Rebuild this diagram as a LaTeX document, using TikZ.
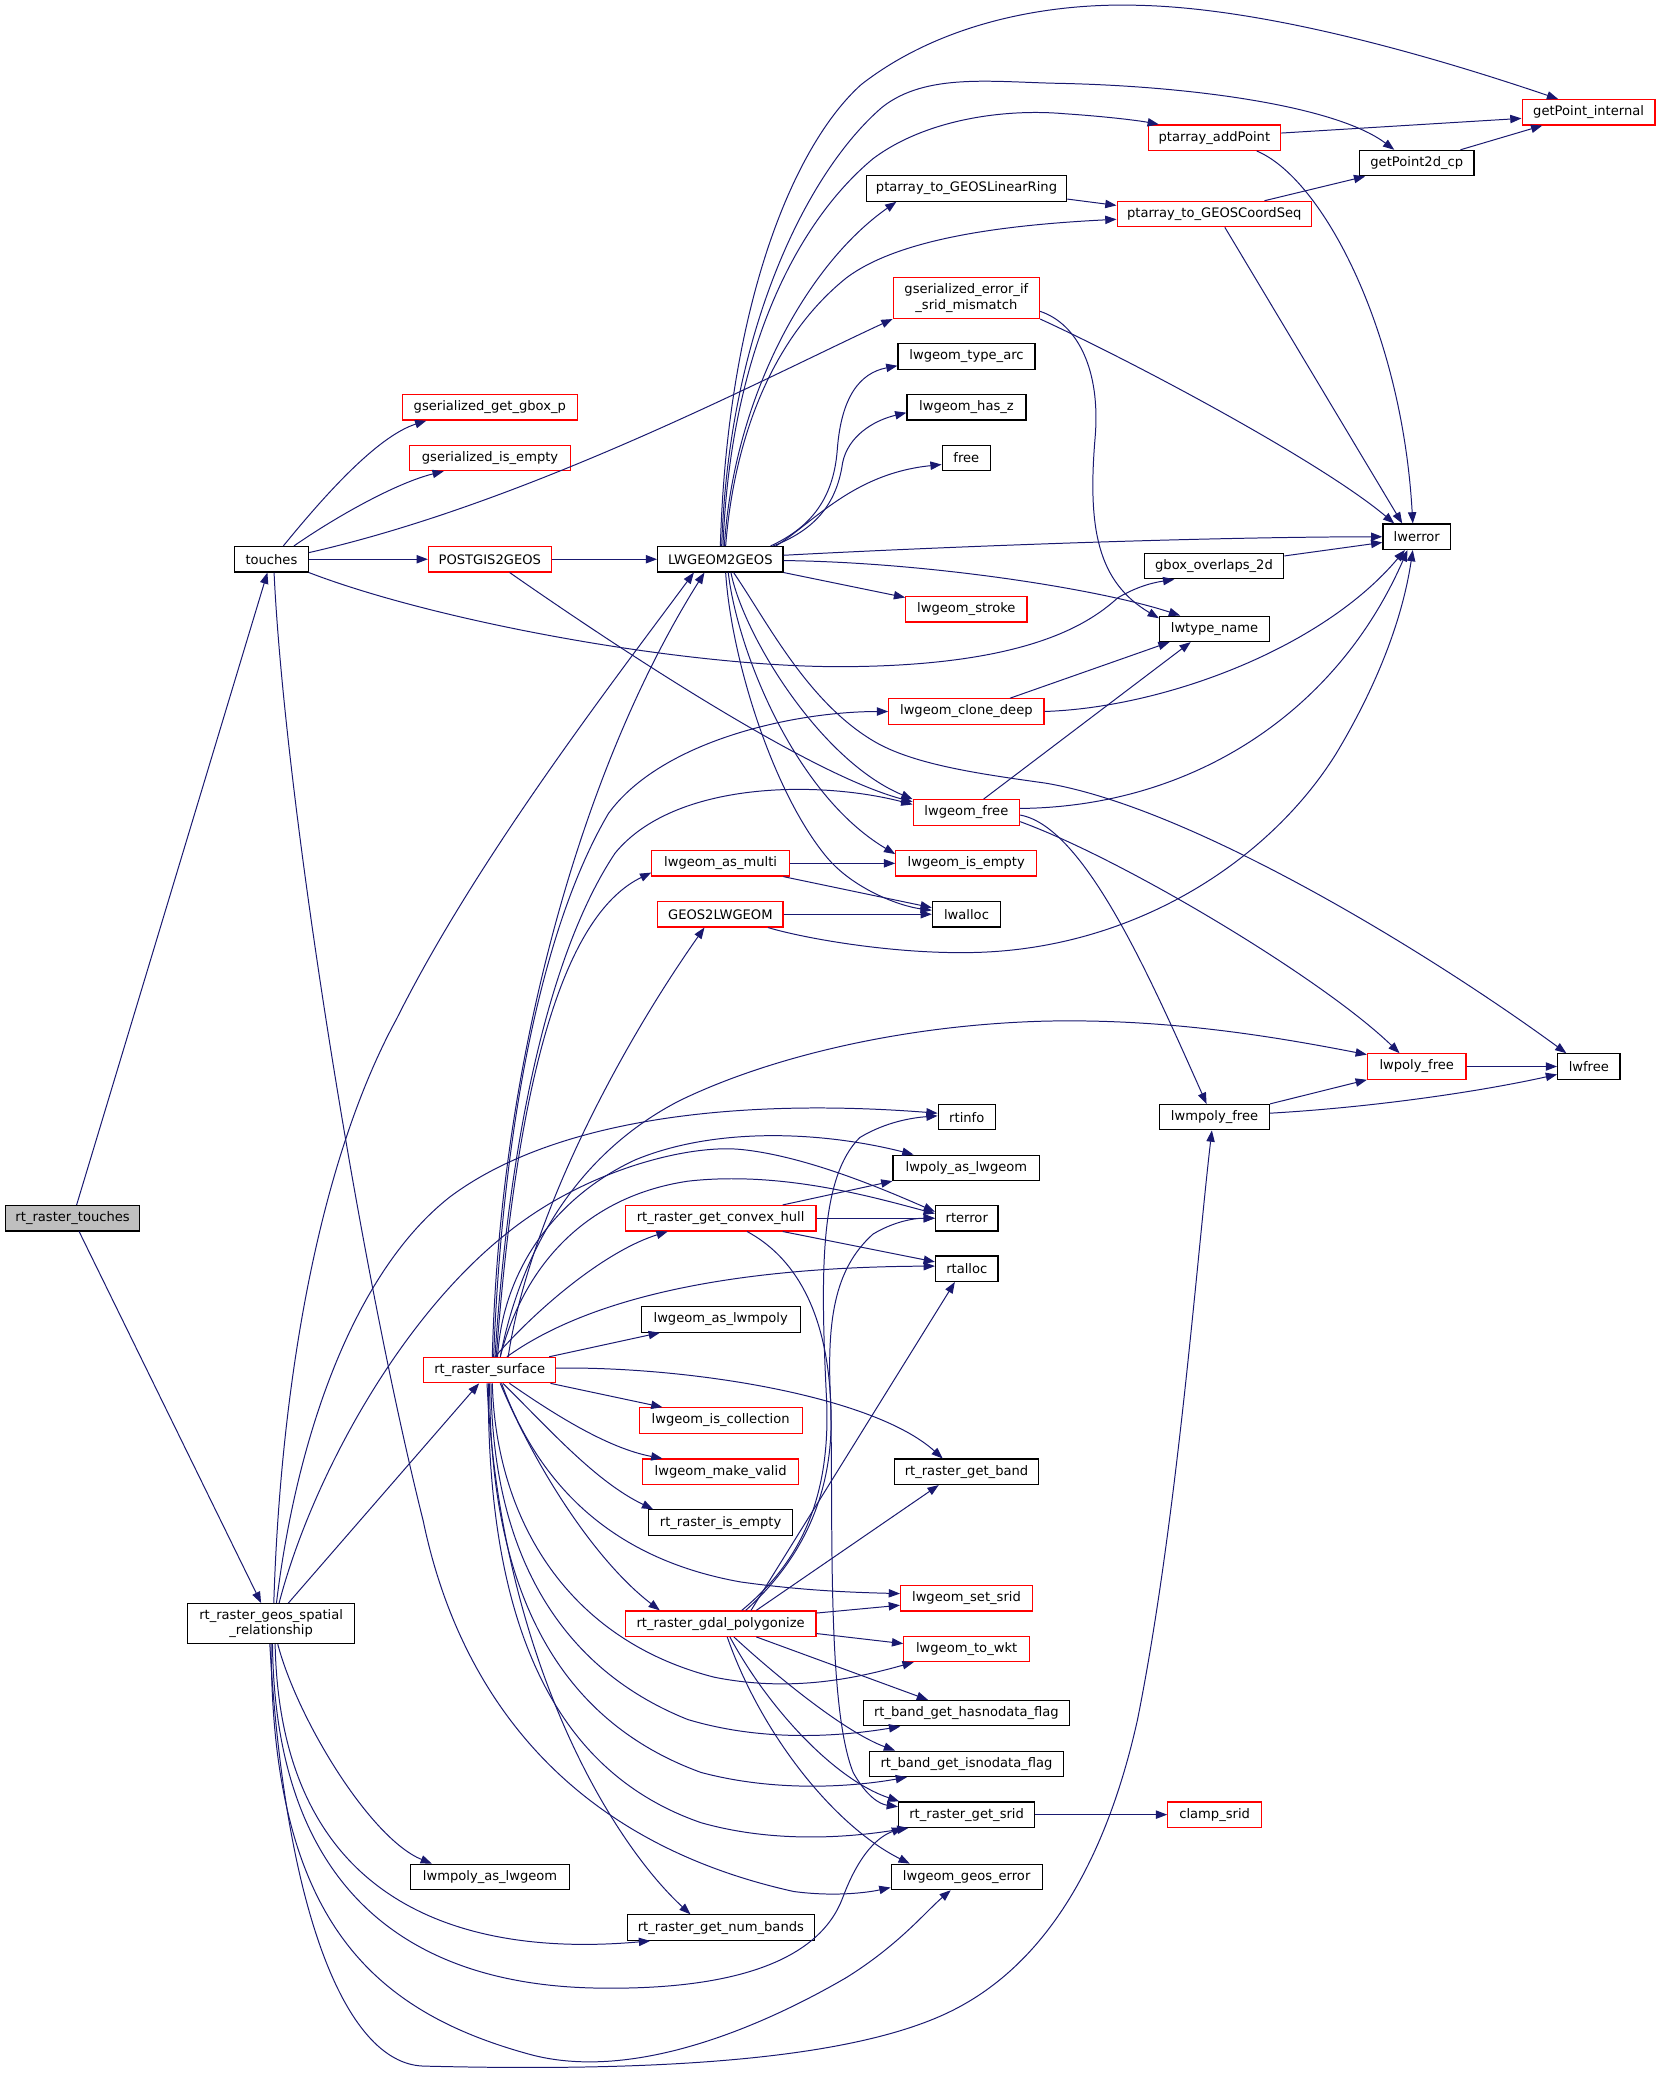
\documentclass[tikz,border=0pt]{standalone}
\usepackage{fontspec}
\setmainfont{DejaVu Sans}
\usetikzlibrary{arrows.meta}
\definecolor{edgecol}{RGB}{25,25,112}
\definecolor{redbox}{RGB}{255,0,0}
\definecolor{grayfill}{RGB}{191,191,191}
\begin{document}
\begin{tikzpicture}[x=1pt,y=-1pt,
  nbox/.style={draw=black, line width=0.9pt, fill=white, inner sep=0pt, minimum height=19.2pt, font=\fontsize{9.9}{11.5}\selectfont, anchor=center},
  nrbox/.style={nbox, draw=redbox},
  edg/.style={draw=edgecol, line width=0.75pt, -{Triangle[length=8.5pt,width=6.3pt]}},
]
\fill[white] (0,0) rectangle (1256,1568);
\useasboundingbox (0,0) rectangle (1256,1568);
% ---------- nodes ----------
\node[nbox, fill=grayfill, minimum width=101.7pt] (rrt) at (54.9,921) {rt\_raster\_touches};
\node[nbox, minimum width=55.7pt] (touches) at (205.2,422.8) {touches};
\node[nbox, minimum width=126.5pt, minimum height=30.2pt, align=center] (geos) at (205,1227.5) {rt\_raster\_geos\_spatial\\\_relationship};
\node[nrbox, minimum width=132pt] (gboxp) at (370.3,308) {gserialized\_get\_gbox\_p};
\node[nrbox, minimum width=121.3pt] (gisempty) at (370.5,346.2) {gserialized\_is\_empty};
\node[nrbox, minimum width=92.8pt] (postgis) at (370.3,422.8) {POSTGIS2GEOS};
\node[nrbox, minimum width=99.6pt] (surface) at (370.2,1035.8) {rt\_raster\_surface};
\node[nbox, minimum width=119.7pt] (mpolyas) at (370.5,1419) {lwmpoly\_as\_lwgeom};
\node[nbox, minimum width=94.8pt] (lwtogeos) at (544.6,422.8) {LWGEOM2GEOS};
\node[nrbox, minimum width=104pt] (asmulti) at (544.8,652.7) {lwgeom\_as\_multi};
\node[nrbox, minimum width=94.8pt] (geostolw) at (544.6,691.2) {GEOS2LWGEOM};
\node[nrbox, minimum width=144.2pt] (hull) at (544.8,921) {rt\_raster\_get\_convex\_hull};
\node[nbox, minimum width=120.1pt] (aslwmpoly) at (544.9,997.5) {lwgeom\_as\_lwmpoly};
\node[nrbox, minimum width=123.2pt] (iscoll) at (544.8,1073.9) {lwgeom\_is\_collection};
\node[nrbox, minimum width=117.6pt] (makevalid) at (544.8,1112.7) {lwgeom\_make\_valid};
\node[nbox, minimum width=108.8pt] (rempty) at (544.8,1151.1) {rt\_raster\_is\_empty};
\node[nrbox, minimum width=144.2pt] (polyg) at (544.8,1227.5) {rt\_raster\_gdal\_polygonize};
\node[nbox, minimum width=141.3pt] (numbands) at (545,1457.3) {rt\_raster\_get\_num\_bands};
\node[nbox, minimum width=151.5pt] (linring) at (730.7,142.5) {ptarray\_to\_GEOSLinearRing};
\node[nrbox, minimum width=110.7pt, minimum height=30.7pt, align=center] (gerr) at (730.6,225.4) {gserialized\_error\_if\\\_srid\_mismatch};
\node[nbox, minimum width=103.5pt] (typearc) at (730.7,269.5) {lwgeom\_type\_arc};
\node[nbox, minimum width=90pt] (hasz) at (730.7,308) {lwgeom\_has\_z};
\node[nbox, minimum width=36.5pt] (freen) at (730.6,346.2) {free};
\node[nrbox, minimum width=91.7pt] (stroke) at (730.6,460.7) {lwgeom\_stroke};
\node[nrbox, minimum width=117.3pt] (clone) at (730.6,537.9) {lwgeom\_clone\_deep};
\node[nrbox, minimum width=80.5pt] (lgfree) at (730.6,614.2) {lwgeom\_free};
\node[nrbox, minimum width=106.5pt] (lgempty) at (730.5,652.7) {lwgeom\_is\_empty};
\node[nbox, minimum width=51.6pt] (lwalloc) at (730.7,691.2) {lwalloc};
\node[nbox, minimum width=43.2pt] (rtinfo) at (730.9,844.6) {rtinfo};
\node[nbox, minimum width=110.9pt] (polyas) at (730.6,882.9) {lwpoly\_as\_lwgeom};
\node[nbox, minimum width=47.3pt] (rterror) at (730.9,921) {rterror};
\node[nbox, minimum width=47.3pt] (rtalloc) at (730.9,959.2) {rtalloc};
\node[nbox, minimum width=108.5pt] (getband) at (730.7,1112.7) {rt\_raster\_get\_band};
\node[nrbox, minimum width=99.7pt] (setsrid) at (730.7,1208.3) {lwgeom\_set\_srid};
\node[nrbox, minimum width=95pt] (towkt) at (730.8,1246.6) {lwgeom\_to\_wkt};
\node[nbox, minimum width=155.4pt] (hasnd) at (730.6,1295.2) {rt\_band\_get\_hasnodata\_flag};
\node[nbox, minimum width=146.3pt] (isnd) at (730.7,1333.5) {rt\_band\_get\_isnodata\_flag};
\node[nbox, minimum width=103pt] (getsrid) at (730.8,1371.9) {rt\_raster\_get\_srid};
\node[nbox, minimum width=114.2pt] (geoserr) at (730.8,1419) {lwgeom\_geos\_error};
\node[nrbox, minimum width=100.2pt] (addpt) at (918.1,104.1) {ptarray\_addPoint};
\node[nrbox, minimum width=146.9pt] (coordseq) at (918,161.8) {ptarray\_to\_GEOSCoordSeq};
\node[nbox, minimum width=105.6pt] (gbox2d) at (917.8,428) {gbox\_overlaps\_2d};
\node[nbox, minimum width=83.2pt] (lwtype) at (918.2,475.4) {lwtype\_name};
\node[nbox, minimum width=83.2pt] (mpolyfree) at (918.2,844.6) {lwmpoly\_free};
\node[nrbox, minimum width=70.9pt] (clamp) at (918.3,1371.9) {clamp\_srid};
\node[nbox, minimum width=86.4pt] (p2d) at (1071.1,123.3) {getPoint2d\_cp};
\node[nbox, minimum width=51.2pt] (lwerror) at (1071.1,405.8) {lwerror};
\node[nrbox, minimum width=74.5pt] (polyfree) at (1071.1,806.3) {lwpoly\_free};
\node[nrbox, minimum width=100.5pt] (gpi) at (1201,84.9) {getPoint\_internal};
\node[nbox, minimum width=47.2pt] (lwfree) at (1201.2,806.3) {lwfree};
% ---------- edges ----------
% rt_raster_touches
\draw[edg] (rrt) -- (touches);
\draw[edg] (rrt) -- (geos);
% touches
\draw[edg] ([xshift=9pt]touches.north) .. controls (245,375) and (285,330) .. ([xshift=-48pt]gboxp.south);
\draw[edg] ([xshift=17pt]touches.north) .. controls (255,390) and (300,365) .. ([xshift=-35pt]gisempty.south);
\draw[edg] ([yshift=5pt]touches.east) .. controls (400,380) and (580,285) .. (gerr.south west);
\draw[edg] (touches) -- (postgis);
\draw[edg] (touches.south east) .. controls (330,470) and (520,505) .. (640,504) .. controls (770,503) and (820,475) .. (845,452) .. controls (862,442) and (875,440) .. ([xshift=-30pt]gbox2d.south);
\draw[edg] ([xshift=2pt]touches.south) .. controls (215,600) and (270,950) .. (320,1150) .. controls (345,1270) and (420,1390) .. (600,1430) .. controls (630,1434) and (655,1431) .. ([yshift=-8pt]geoserr.west);
% POSTGIS2GEOS
\draw[edg] (postgis) -- (lwtogeos);
\draw[edg] ([xshift=15pt]postgis.south) .. controls (460,485) and (610,585) .. ([yshift=8pt]lgfree.west);
% LWGEOM2GEOS
\draw[edg] (lwtogeos.north) .. controls (550,230) and (600,110) .. (651,64) .. controls (710,18) and (790,2) .. (860,4) .. controls (960,6) and (1090,45) .. ([xshift=-23pt]gpi.north);
\draw[edg] ([xshift=1pt]lwtogeos.north) .. controls (551,250) and (610,130) .. (667,81) .. controls (700,55) and (750,62) .. (800,63) .. controls (900,65) and (1010,80) .. ([xshift=-17pt]p2d.north);
\draw[edg] ([xshift=2pt]lwtogeos.north) .. controls (552,270) and (600,170) .. (660,120) .. controls (700,90) and (760,82) .. (805,86) .. controls (835,88) and (860,91) .. ([xshift=-42pt]addpt.north);
\draw[edg] ([xshift=3pt]lwtogeos.north) .. controls (555,300) and (610,200) .. ([xshift=-53pt]linring.south);
\draw[edg] ([xshift=4pt]lwtogeos.north) .. controls (556,320) and (590,250) .. (640,210) .. controls (680,180) and (760,170) .. ([yshift=-4pt]coordseq.west);
\draw[edg] ([xshift=38pt]lwtogeos.north) .. controls (610,400) and (630,380) .. (633,340) .. controls (636,300) and (650,282) .. ([yshift=-7pt]typearc.west);
\draw[edg] ([xshift=40pt]lwtogeos.north) .. controls (612,402) and (632,385) .. (637,350) .. controls (641,330) and (660,318) .. ([yshift=-4pt]hasz.west);
\draw[edg] ([xshift=42pt]lwtogeos.north) .. controls (615,395) and (645,358) .. ([yshift=-5pt]freen.west);
\draw[edg] ([yshift=3pt]lwtogeos.east) .. controls (700,414) and (900,406) .. (lwerror.west);
\draw[edg] ([yshift=-1pt]lwtogeos.east) .. controls (700,425) and (830,445) .. ([xshift=-26pt]lwtype.north);
\draw[edg] (lwtogeos.south east) -- ([yshift=9pt]stroke.west);
\draw[edg] ([xshift=8pt]lwtogeos.south) .. controls (562,480) and (620,575) .. (lgfree.north west);
\draw[edg] ([xshift=6pt]lwtogeos.south) .. controls (557,490) and (600,600) .. ([yshift=7pt]lgempty.west);
\draw[edg] ([xshift=4pt]lwtogeos.south) .. controls (553,500) and (585,600) .. (625,648) .. controls (645,672) and (680,685) .. ([yshift=3pt]lwalloc.west);
\draw[edg] ([xshift=10pt]lwtogeos.south) .. controls (580,470) and (610,530) .. (660,560) .. controls (690,578) and (740,585) .. (790,592) .. controls (900,610) and (1080,720) .. ([xshift=-17pt]lwfree.north);
% gserialized_error_if_srid_mismatch
\draw[edg] (gerr.south east) .. controls (860,275) and (1000,350) .. ([xshift=-17pt]lwerror.north);
\draw[edg] ([yshift=-10pt]gerr.east) .. controls (815,245) and (832,280) .. (828,330) .. controls (822,400) and (830,440) .. ([yshift=8pt]lwtype.west);
% ptarray etc.
\draw[edg] ([yshift=3.5pt]addpt.east) -- ([yshift=-4.6pt]gpi.west);
\draw[edg] ([xshift=32pt]addpt.south) .. controls (1000,135) and (1060,250) .. ([xshift=-3pt]lwerror.north);
\draw[edg] ([yshift=-8pt]linring.east) -- ([yshift=6.5pt]coordseq.west);
\draw[edg] ([xshift=38pt]coordseq.north) -- ([xshift=-39pt]p2d.south);
\draw[edg] ([xshift=8pt]coordseq.south) -- ([xshift=-11pt]lwerror.north);
\draw[edg] ([xshift=33pt]p2d.north) -- ([xshift=-35pt]gpi.south);
\draw[edg] ([yshift=7.7pt]gbox2d.east) -- ([yshift=-4.3pt]lwerror.west);
% lwgeom_clone_deep, lwgeom_free
\draw[edg] ([xshift=33pt]clone.north) -- ([xshift=-34pt]lwtype.south);
\draw[edg] (clone.east) .. controls (880,535) and (1000,490) .. ([xshift=-9pt]lwerror.south);
\draw[edg] ([xshift=13pt]lgfree.north) -- ([xshift=-18pt]lwtype.south);
\draw[edg] ([yshift=3pt]lgfree.east) .. controls (900,610) and (1010,540) .. ([xshift=-7pt]lwerror.south);
\draw[edg] ([yshift=-7pt]lgfree.east) .. controls (850,650) and (1000,740) .. ([xshift=-13pt]polyfree.north);
\draw[edg] ([yshift=-2pt]lgfree.east) .. controls (820,625) and (870,740) .. ([xshift=-6pt]mpolyfree.north);
% lwgeom_as_multi, GEOS2LWGEOM
\draw[edg] (asmulti) -- (lgempty);
\draw[edg] ([xshift=-5pt]asmulti.south east) -- ([yshift=5pt]lwalloc.west);
\draw[edg] (geostolw) -- (lwalloc);
\draw[edg] ([xshift=36pt]geostolw.south) .. controls (610,710) and (680,722) .. (740,720) .. controls (860,716) and (960,650) .. (1010,570) .. controls (1040,520) and (1060,470) .. ([xshift=-3pt]lwerror.south);
% lwpoly_free, lwmpoly_free, srid
\draw[edg] (polyfree) -- (lwfree);
\draw[edg] (mpolyfree.north east) -- (polyfree.south west);
\draw[edg] ([yshift=3pt]mpolyfree.east) .. controls (1040,837) and (1120,825) .. ([yshift=-6pt]lwfree.west);
\draw[edg] (getsrid) -- (clamp);
% rt_raster_geos_spatial_relationship
\draw[edg] ([xshift=2pt]geos.north) .. controls (212,1050) and (240,880) .. (300,770) .. controls (360,650) and (460,520) .. ([xshift=-20pt]lwtogeos.south);
\draw[edg] ([xshift=4pt]geos.north) .. controls (225,1080) and (270,960) .. (340,905) .. controls (420,845) and (560,830) .. ([yshift=3pt]rtinfo.west);
\draw[edg] ([xshift=6pt]geos.north) .. controls (235,1120) and (300,1000) .. (380,935) .. controls (440,885) and (520,865) .. (560,869) .. controls (610,874) and (670,900) .. ([yshift=5pt]rterror.west);
\draw[edg] ([xshift=13pt]geos.north) -- ([xshift=-8pt]surface.south);
\draw[edg] ([xshift=5pt]geos.south) .. controls (225,1300) and (280,1390) .. ([xshift=-44pt]mpolyas.north);
\draw[edg] ([xshift=3pt]geos.south) .. controls (212,1440) and (350,1480) .. ([xshift=-53.5pt]numbands.south);
\draw[edg] ([xshift=1pt]geos.south) .. controls (208,1420) and (300,1500) .. (450,1503) .. controls (560,1505) and (620,1480) .. (637,1435) .. controls (650,1400) and (665,1388) .. ([xshift=-48pt]getsrid.south);
\draw[edg] (geos.south) .. controls (205,1450) and (280,1520) .. (400,1553) .. controls (480,1575) and (580,1530) .. (640,1495) .. controls (680,1470) and (700,1445) .. ([xshift=-12pt]geoserr.south);
\draw[edg] ([xshift=-1pt]geos.south) .. controls (215,1440) and (260,1560) .. (320,1562) .. controls (480,1566) and (640,1560) .. (720,1520) .. controls (800,1480) and (840,1390) .. (860,1300) .. controls (890,1150) and (905,950) .. ([xshift=-2pt]mpolyfree.south);
% rt_raster_surface
\draw[edg] ([xshift=2pt]surface.north) .. controls (378,800) and (440,580) .. ([xshift=-12pt]lwtogeos.south);
\draw[edg] ([xshift=3pt]surface.north) .. controls (380,850) and (410,700) .. (460,615) .. controls (500,560) and (600,538) .. (clone.west);
\draw[edg] ([xshift=4pt]surface.north) .. controls (385,860) and (415,720) .. (465,645) .. controls (510,590) and (620,590) .. ([yshift=6pt]lgfree.west);
\draw[edg] ([xshift=5pt]surface.north) .. controls (392,800) and (430,690) .. ([yshift=-7pt]asmulti.west);
\draw[edg] ([xshift=14pt]surface.north) .. controls (400,920) and (470,790) .. ([xshift=-12pt]geostolw.south);
\draw[edg] ([xshift=8pt]surface.north) .. controls (395,940) and (440,870) .. (514,832) .. controls (580,800) and (680,775) .. (790,772) .. controls (880,770) and (960,783) .. ([yshift=9pt]polyfree.west);
\draw[edg] ([xshift=6pt]surface.north) .. controls (380,960) and (420,905) .. (480,877) .. controls (540,852) and (620,855) .. ([xshift=-40pt]polyas.north);
\draw[edg] ([xshift=8pt]surface.north) .. controls (395,960) and (440,905) .. (520,893) .. controls (590,885) and (660,905) .. ([yshift=3.5pt]rterror.west);
\draw[edg] ([xshift=4pt]surface.north) .. controls (410,985) and (460,945) .. ([xshift=-40pt]hull.south);
\draw[edg] ([xshift=13pt]surface.north) .. controls (440,985) and (540,958) .. ([yshift=2pt]rtalloc.west);
\draw[edg] ([xshift=45pt]surface.north) -- ([xshift=-46pt]aslwmpoly.south);
\draw[edg] ([yshift=1.5pt]surface.east) .. controls (520,1033) and (660,1055) .. ([xshift=-18pt]getband.north);
\draw[edg] ([xshift=46pt]surface.south) -- ([xshift=-44pt]iscoll.north);
\draw[edg] ([xshift=15pt]surface.south) .. controls (420,1070) and (460,1095) .. ([xshift=-44pt]makevalid.north);
\draw[edg] ([xshift=10pt]surface.south) .. controls (415,1080) and (450,1120) .. ([xshift=-51pt]rempty.north);
\draw[edg] ([xshift=8pt]surface.south) .. controls (405,1110) and (450,1180) .. ([xshift=-46pt]polyg.north);
\draw[edg] ([xshift=9pt]surface.south) .. controls (410,1130) and (470,1180) .. (560,1196) .. controls (610,1203) and (650,1204) .. ([yshift=3.5pt]setsrid.west);
\draw[edg] ([xshift=2pt]surface.south) .. controls (375,1150) and (430,1240) .. (540,1268) .. controls (600,1280) and (650,1268) .. ([xshift=-40pt]towkt.south);
\draw[edg] ([xshift=1pt]surface.south) .. controls (372,1170) and (420,1260) .. (520,1300) .. controls (580,1318) and (640,1312) .. ([xshift=-50pt]hasnd.south);
\draw[edg] (surface.south) .. controls (370,1200) and (420,1300) .. (530,1340) .. controls (590,1356) and (650,1350) .. ([xshift=-45pt]isnd.south);
\draw[edg] ([xshift=-1pt]surface.south) .. controls (368,1230) and (420,1340) .. (530,1378) .. controls (590,1395) and (650,1388) .. ([xshift=-44pt]getsrid.south);
\draw[edg] ([xshift=-2pt]surface.south) .. controls (378,1250) and (460,1390) .. ([xshift=-23pt]numbands.north);
% rt_raster_gdal_polygonize
\draw[edg] ([xshift=16pt]polyg.north) .. controls (600,1185) and (628,1140) .. (625,1060) .. controls (620,960) and (620,890) .. (650,860) .. controls (670,848) and (690,845) .. ([yshift=1pt]rtinfo.west);
\draw[edg] ([xshift=19pt]polyg.north) .. controls (605,1180) and (632,1130) .. (628,1060) .. controls (625,1000) and (630,960) .. (660,933) .. controls (675,924) and (690,921) .. (rterror.west);
\draw[edg] ([xshift=23pt]polyg.north) -- ([xshift=-9pt]rtalloc.south);
\draw[edg] ([xshift=27pt]polyg.north) -- ([xshift=-21pt]getband.south);
\draw[edg] ([yshift=8pt]polyg.east) -- ([yshift=-5.3pt]setsrid.west);
\draw[edg] ([yshift=-7.5pt]polyg.east) -- ([yshift=4pt]towkt.west);
\draw[edg] ([xshift=27pt]polyg.south) -- ([xshift=-29pt]hasnd.north);
\draw[edg] ([xshift=10pt]polyg.south) .. controls (590,1270) and (640,1310) .. ([xshift=-54pt]isnd.north);
\draw[edg] ([xshift=7pt]polyg.south) .. controls (580,1290) and (630,1345) .. ([xshift=-51pt]getsrid.north);
\draw[edg] ([xshift=5pt]polyg.south) .. controls (575,1310) and (630,1380) .. ([xshift=-43pt]geoserr.north);
% rt_raster_get_convex_hull
\draw[edg] ([xshift=47pt]hull.north) -- (polyas.south west);
\draw[edg] (hull) -- (rterror);
\draw[edg] ([xshift=47pt]hull.south) -- ([yshift=5.2pt]rtalloc.west);
\draw[edg] ([xshift=20pt]hull.south) .. controls (600,950) and (625,990) .. (628,1060) .. controls (630,1150) and (625,1290) .. (645,1340) .. controls (655,1358) and (665,1364) .. ([yshift=6pt]getsrid.west);
\end{tikzpicture}
\end{document}
